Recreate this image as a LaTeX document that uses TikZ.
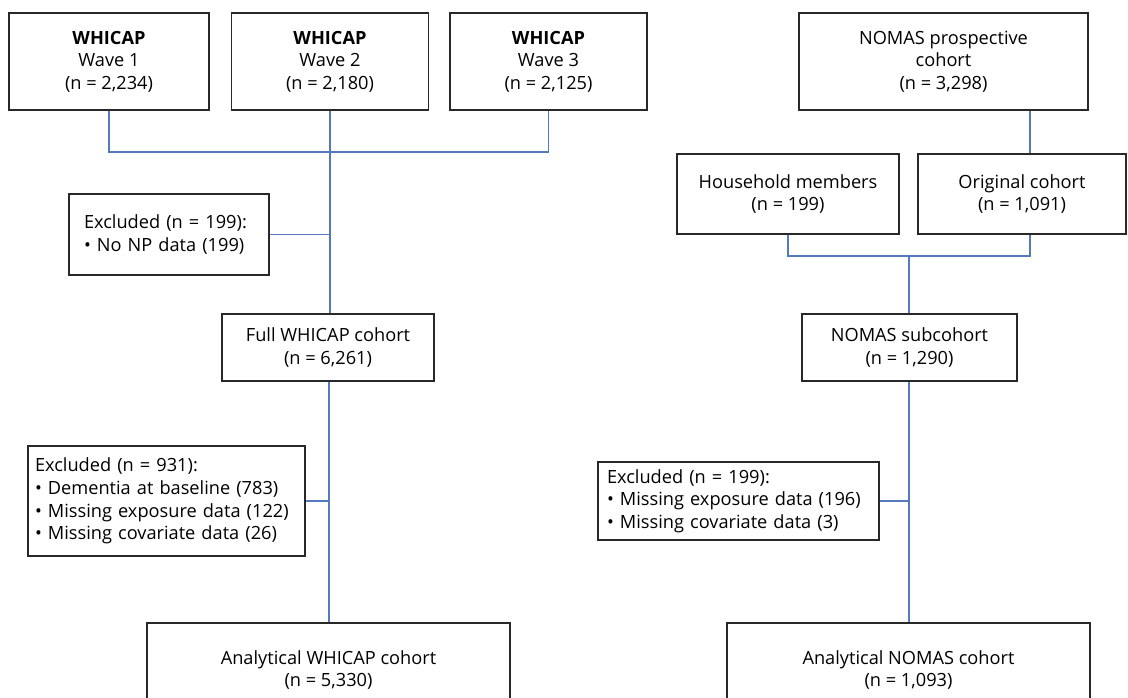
\documentclass[tikz,border=0pt]{standalone}
\usepackage{fontspec}
\setmainfont{Open Sans}
\definecolor{boxline}{RGB}{40,40,40}
\definecolor{conn}{RGB}{84,122,190}
\begin{document}
\begin{tikzpicture}[x=1pt,y=-1pt,
  box/.style={draw=boxline, line width=1.2pt, rectangle, inner sep=0pt, align=center,
    font=\fontsize{18.2}{22.6}\selectfont},
  exbox/.style={box, align=left},
  link/.style={draw=conn, line width=1.1pt}]
\useasboundingbox (0,0) rectangle (1128,698);
\clip (0,0) rectangle (1128,698);
\fill[white] (0,0) rectangle (1128,698);
% WHICAP waves
\node[box, minimum width=200pt, minimum height=97pt] (w1) at (109,61.5) {\textbf{WHICAP}\\Wave 1\\(n = 2,234)};
\node[box, minimum width=197pt, minimum height=97pt] (w2) at (330,61.5) {\textbf{WHICAP}\\Wave 2\\(n = 2,180)};
\node[box, minimum width=197pt, minimum height=97pt] (w3) at (548.5,61.5) {\textbf{WHICAP}\\Wave 3\\(n = 2,125)};
% NOMAS
\node[box, minimum width=289pt, minimum height=97pt] (np) at (943.5,61.5) {NOMAS prospective\\cohort\\(n = 3,298)};
\node[box, minimum width=222pt, minimum height=80pt] (hh) at (788,194) {Household members\\(n = 199)};
\node[box, minimum width=208pt, minimum height=80pt] (oc) at (1022,194) {Original cohort\\(n = 1,091)};
% excluded 1
\node[exbox, minimum width=200pt, minimum height=81pt, text width=170pt] (ex1) at (169,234.5) {Excluded (n = 199):\\\textbullet\ No NP data (199)};
\node[box, minimum width=212pt, minimum height=67pt] (fw) at (328,347.5) {Full WHICAP cohort\\(n = 6,261)};
\node[box, minimum width=215pt, minimum height=67pt] (ns) at (909.5,347.5) {NOMAS subcohort\\(n = 1,290)};
\node[exbox, minimum width=277pt, minimum height=110pt, text width=263pt] (ex2) at (166.5,501) {Excluded (n = 931):\\\textbullet\ Dementia at baseline (783)\\\textbullet\ Missing exposure data (122)\\\textbullet\ Missing covariate data (26)};
\node[exbox, minimum width=281pt, minimum height=78pt, text width=263pt] (ex3) at (738.5,501) {Excluded (n = 199):\\\textbullet\ Missing exposure data (196)\\\textbullet\ Missing covariate data (3)};
\node[box, minimum width=363pt, minimum height=94pt] (aw) at (328.5,670) {Analytical WHICAP cohort\\(n = 5,330)};
\node[box, minimum width=363pt, minimum height=94pt] (an) at (908.5,670) {Analytical NOMAS cohort\\(n = 1,093)};
% helper coordinates
\coordinate (jw) at (330,152);
\coordinate (jn) at (909,256);
\coordinate (ox) at (1030,0);
\coordinate (wx) at (329,0);
% WHICAP connectors
\draw[link] (w1.south) |- (jw);
\draw[link] (w3.south) |- (jw);
\draw[link] (w2.south) -- (w2.south |- fw.north);
\draw[link] (ex1.east) -- (ex1.east -| w2.south);
\draw[link] (fw.south -| wx) -- (aw.north -| wx);
\draw[link] (ex2.east) -- (ex2.east -| wx);
% NOMAS connectors
\draw[link] (np.south -| ox) -- (oc.north -| ox);
\draw[link] (hh.south) |- (jn);
\draw[link] (oc.south -| ox) |- (jn);
\draw[link] (jn) -- (ns.north -| jn);
\draw[link] (ns.south -| jn) -- (an.north -| jn);
\draw[link] (ex3.east) -- (ex3.east -| jn);
\end{tikzpicture}
\end{document}
